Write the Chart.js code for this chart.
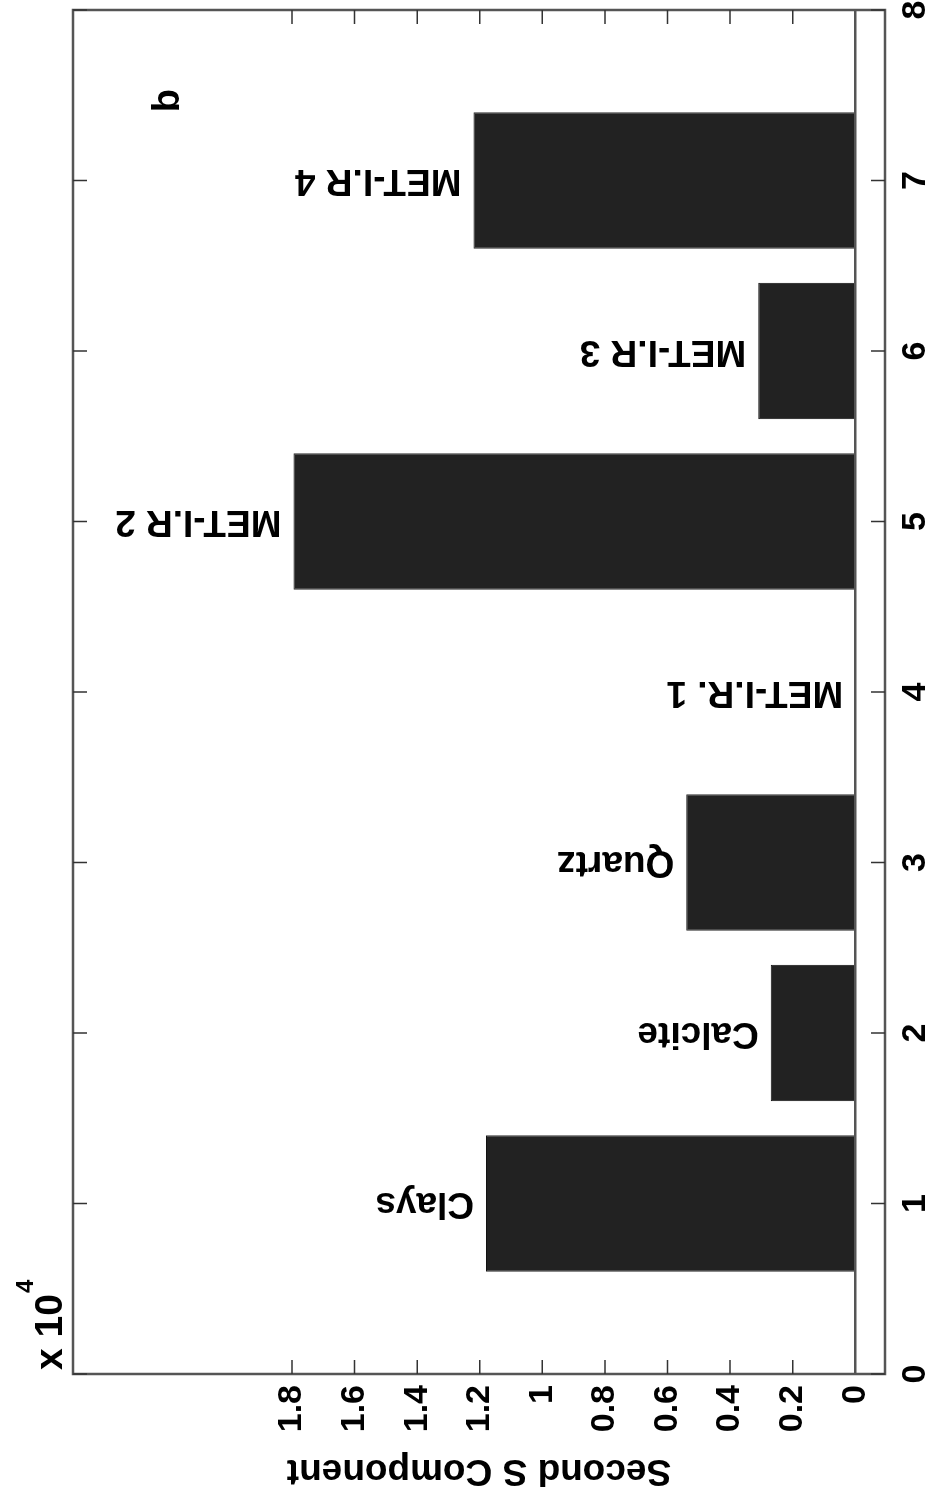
<!DOCTYPE html>
<html>
<head>
<meta charset="utf-8">
<script src="https://cdn.jsdelivr.net/npm/chart.js@4.4.1/dist/chart.umd.min.js"></script>
<style>
body { margin: 0; background: #fff; }
#wrap { position: relative; width: 931px; height: 1504px; overflow: hidden; background: #fff; }
/* the figure is drawn upright, then turned a quarter turn counter-clockwise */
#chart { position: absolute; left: 0; top: 0; transform-origin: 0 0; transform: translateY(1504px) rotate(-90deg); }
</style>
</head>
<body>
<div id="wrap"><canvas id="chart" width="1504" height="931"></canvas></div>
<script>
var categories = ['Clays', 'Calcite', 'Quartz', 'MET-I.R. 1', 'MET-I.R 2', 'MET-I.R 3', 'MET-I.R 4'];
var positions = [1, 2, 3, 4, 5, 6, 7];
var values = [11800, 2700, 5400, 0, 17950, 3100, 12200];
var yTicks = [0, 2000, 4000, 6000, 8000, 10000, 12000, 14000, 16000, 18000];
var yTickLabels = ['0', '0.2', '0.4', '0.6', '0.8', '1', '1.2', '1.4', '1.6', '1.8'];
var yTitle = 'Second S Component';
var panelLetter = 'b';

var FONT = "'Liberation Sans', Arial, sans-serif";

var overlay = {
  id: 'overlay',
  afterDatasetsDraw: function (chart) {
    var ctx = chart.ctx;
    var meta = chart.getDatasetMeta(0);
    ctx.save();
    ctx.fillStyle = '#000';
    ctx.font = 'bold 37px ' + FONT;
    ctx.textAlign = 'left';
    ctx.textBaseline = 'middle';
    meta.data.forEach(function (bar, i) {
      ctx.save();
      ctx.translate(bar.x, bar.y - 12);
      ctx.rotate(-Math.PI / 2);
      ctx.fillText(categories[i], 0, 0);
      ctx.restore();
    });
    ctx.restore();
  },
  afterDraw: function (chart) {
    var ctx = chart.ctx;
    var a = chart.chartArea;
    var xs = chart.scales.x;
    var ys = chart.scales.y;
    ctx.save();
    // frame
    ctx.strokeStyle = '#555';
    ctx.lineWidth = 2.5;
    ctx.strokeRect(a.left, a.top, a.right - a.left, a.bottom - a.top);
    // inward tick marks, all four sides
    ctx.strokeStyle = '#333';
    ctx.lineWidth = 1.5;
    ctx.beginPath();
    xs.ticks.forEach(function (t) {
      var px = xs.getPixelForValue(t.value);
      ctx.moveTo(px, a.bottom); ctx.lineTo(px, a.bottom - 14);
      ctx.moveTo(px, a.top); ctx.lineTo(px, a.top + 14);
    });
    ys.ticks.forEach(function (t) {
      if (t.value === 0) return;
      var py = ys.getPixelForValue(t.value);
      ctx.moveTo(a.left, py); ctx.lineTo(a.left + 14, py);
      ctx.moveTo(a.right, py); ctx.lineTo(a.right - 14, py);
    });
    ctx.stroke();
    // exponent label
    ctx.fillStyle = '#000';
    ctx.textAlign = 'left';
    ctx.textBaseline = 'alphabetic';
    ctx.font = 'bold 39px ' + FONT;
    ctx.fillText('x 10', a.left + 4, 62);
    var w = ctx.measureText('x 10').width;
    ctx.font = 'bold 24px ' + FONT;
    ctx.fillText('4', a.left + 4 + w + 1, 33);
    // panel letter
    ctx.font = 'bold 38px ' + FONT;
    ctx.fillText(panelLetter, xs.getPixelForValue(7.4), ys.getPixelForValue(21600));
    ctx.restore();
  }
};

var chartCtx = document.getElementById('chart').getContext('2d');
var myBarChart = new Chart(chartCtx, {
  type: 'bar',
  data: {
    datasets: [
      {
        data: positions.map(function (p, i) { return { x: p, y: values[i] }; }),
        backgroundColor: '#222',
        borderColor: '#111',
        borderWidth: 1,
        barPercentage: 1,
        categoryPercentage: 0.8,
      },
    ],
  },
  options: {
    responsive: false,
    animation: false,
    devicePixelRatio: 1,
    layout: {
      padding: { top: 73, right: 10, left: 0, bottom: 0 },
    },
    plugins: {
      legend: { display: false },
      tooltip: { enabled: false },
    },
    scales: {
      x: {
        type: 'linear',
        min: 0,
        max: 8,
        offset: false,
        ticks: {
          stepSize: 1,
          padding: 10,
          color: '#000',
          font: { family: FONT, size: 34, weight: 'bold' },
        },
        grid: { display: false, offset: false, drawTicks: false },
        border: { display: false },
        afterFit: function (scale) {
          scale.height = 46;
          scale.paddingLeft = 0;
          scale.paddingRight = 0;
        },
      },
      y: {
        min: -950,
        max: 25000,
        afterBuildTicks: function (scale) {
          scale.ticks = yTicks.map(function (v) { return { value: v }; });
        },
        ticks: {
          padding: 11,
          color: '#000',
          font: { family: FONT, size: 34, weight: 'bold' },
          callback: function (v) { return yTickLabels[yTicks.indexOf(v)]; },
        },
        grid: {
          drawTicks: false,
          lineWidth: 2.5,
          color: function (c) { return c.tick && c.tick.value === 0 ? '#555' : 'rgba(0,0,0,0)'; },
        },
        border: { display: false },
        title: {
          display: true,
          text: yTitle,
          color: '#000',
          font: { family: FONT, size: 37, weight: 'bold' },
          padding: { top: 12, bottom: 0 },
        },
        afterFit: function (scale) {
          scale.width = 130;
          scale.paddingTop = 0;
          scale.paddingBottom = 0;
        },
      },
    },
  },
  plugins: [overlay],
});
</script>
</body>
</html>
